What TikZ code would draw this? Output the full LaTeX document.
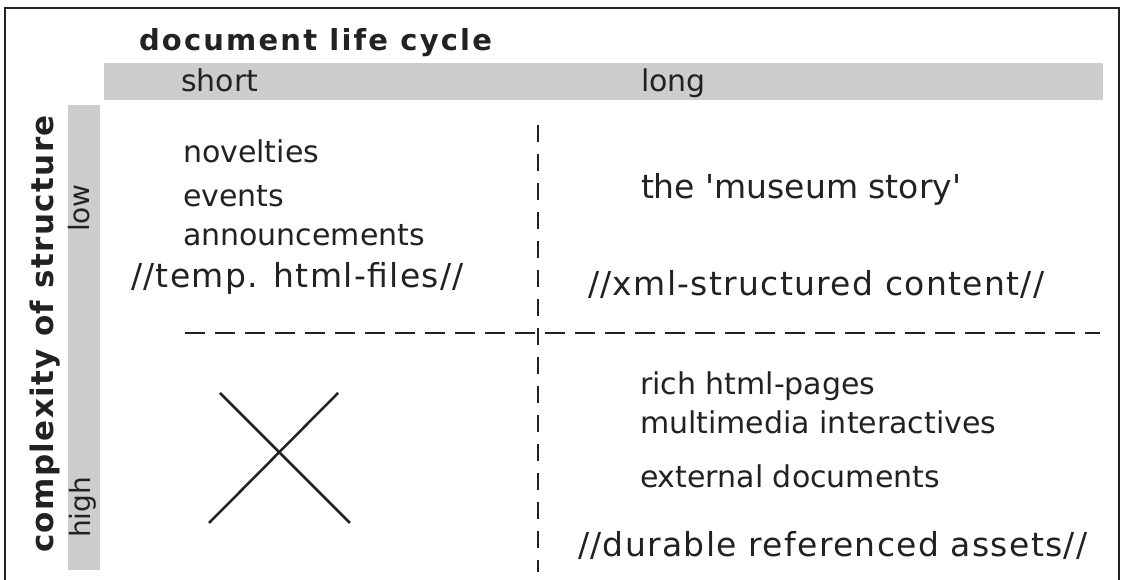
\documentclass[tikz,border=0pt]{standalone}
\usepackage{fontspec}
\setmainfont{DejaVu Sans}
\newfontfamily\titlefont[LetterSpace=7.5]{DejaVu Sans}
\newfontfamily\axisfont[LetterSpace=4.5]{DejaVu Sans}
\newfontfamily\slashfont[LetterSpace=4]{DejaVu Sans}
\definecolor{ink}{HTML}{222222}
\definecolor{bar}{HTML}{CDCDCD}
\begin{document}
\begin{tikzpicture}[x=1pt,y=1pt,
  every node/.style={inner sep=0pt,outer sep=0pt,text=ink},
  lbl/.style={anchor=base west,font=\fontsize{30pt}{34pt}\selectfont},
  slash/.style={anchor=base west,font=\slashfont\fontsize{33pt}{37pt}\selectfont},
  axis/.style={anchor=base west,rotate=90,font=\axisfont\bfseries\fontsize{31pt}{35pt}\selectfont},
  level/.style={anchor=base west,rotate=90,font=\fontsize{28pt}{32pt}\selectfont},
  dashline/.style={draw=ink,line width=2pt},
  crossline/.style={draw=ink,line width=2.5pt},
  frame/.style={draw=ink,line width=1.8pt}]
\useasboundingbox (0,0) rectangle (1122,580);
\fill[white] (0,0) rectangle (1122,580);
% frame
\draw[frame] (5,0) -- (5,572) -- (1119,572) -- (1119,0);
% gray bars
\fill[bar] (104,517) rectangle (1103,480);
\fill[bar] (68,475) rectangle (100,10);
% title
\node[anchor=base west,font=\titlefont\bfseries\fontsize{29pt}{33pt}\selectfont] (title) at (139,529) {document life cycle};
\node[lbl] (short) at (181,488) {short};
\node[lbl] (long) at (641,488) {long};
% axis
\node[axis] (cplx) at (53,27) {complexity of structure};
\node[level] (low) at (89,348) {low};
\node[level] (high) at (90,42) {high};
% dashed dividers
\coordinate (vtop) at (538,455);
\coordinate (vbot) at (538,8);
\coordinate (hl) at (185,247);
\coordinate (hr) at (1100,247);
\draw[dashline,dash pattern=on 17pt off 12pt] (vtop) -- (vbot);
\draw[dashline,dash pattern=on 20pt off 10pt] (hl) -- (hr);
% upper left
\node[lbl] (nov) at (183,417) {novelties};
\node[lbl] (ev) at (183,373) {events};
\node[lbl] (ann) at (183,334) {announcements};
\node[slash] (temp) at (131,292) {//temp. html-files//};
% upper right
\node[anchor=base west,font=\fontsize{33pt}{37pt}\selectfont] (mus) at (641,381) {the \textquotesingle museum story\textquotesingle};
\node[slash] (xml) at (588,284) {//xml-structured content//};
% lower right
\node[lbl] (rich) at (640,185) {rich html-pages};
\node[lbl] (multi) at (640,146) {multimedia interactives};
\node[lbl] (ext) at (640,92) {external documents};
\node[slash] (dur) at (578,23) {//durable referenced assets//};
% cross
\coordinate (x1) at (220,187);
\coordinate (x2) at (350,57);
\coordinate (x3) at (338,187);
\coordinate (x4) at (209,57);
\draw[crossline] (x1) -- (x2);
\draw[crossline] (x3) -- (x4);
\end{tikzpicture}
\end{document}
